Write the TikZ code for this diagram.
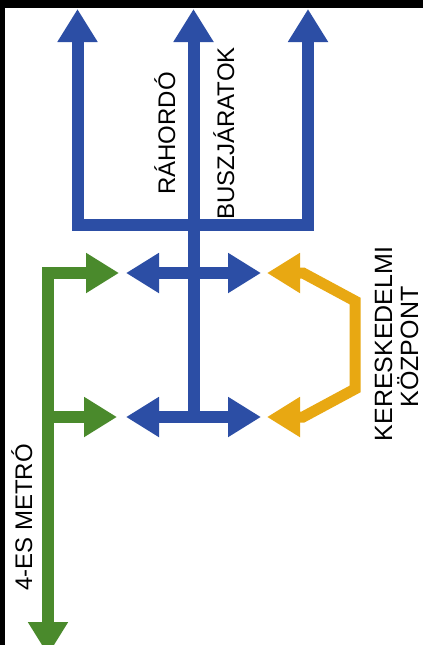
\documentclass[tikz,border=0pt]{standalone}
\usepackage{fontspec}
\setmainfont{Liberation Sans}
\usetikzlibrary{arrows.meta}
\definecolor{mblue}{RGB}{44,78,165}
\definecolor{mgreen}{RGB}{74,138,44}
\definecolor{myellow}{RGB}{232,168,18}
\tikzset{bigtip/.tip={Triangle[width=38pt,length=33pt]}}
\begin{document}
\begin{tikzpicture}[x=1pt,y=-1pt,
  flow/.style={line width=12pt, line join=miter},
  lbl/.style={rotate=90, inner sep=0pt, font=\fontsize{24}{29}\selectfont},
  lblb/.style={rotate=90, inner sep=0pt, font=\fontsize{25}{30}\selectfont}]
\useasboundingbox (0,0) rectangle (423,645);
\fill[white] (0,0) rectangle (423,645);
\fill[black] (0,0) rectangle (423,8);
\fill[black] (0,0) rectangle (5,645);
% coordinates
\coordinate (bl) at (77.5,9);
\coordinate (blc) at (77.5,225);
\coordinate (brc) at (308,225);
\coordinate (br) at (308,9);
\coordinate (bcb) at (193.5,417);
\coordinate (bct) at (193.5,9);
\coordinate (u1) at (126,273);
\coordinate (u2) at (261,273);
\coordinate (l1) at (126,417);
\coordinate (l2) at (261,417);
\coordinate (gu) at (119,273);
\coordinate (gc) at (48,273);
\coordinate (gb) at (48,655);
\coordinate (gl0) at (48,417);
\coordinate (gl) at (117,417);
\coordinate (y1) at (267,273);
\coordinate (y2) at (303,273);
\coordinate (y3) at (355,301);
\coordinate (y4) at (355,389);
\coordinate (y5) at (303,417);
\coordinate (y6) at (267,417);
% blue
\draw[flow, mblue, bigtip-bigtip] (bl) -- (blc) -- (brc) -- (br);
\draw[flow, mblue, -bigtip] (bcb) -- (bct);
\draw[flow, mblue, bigtip-bigtip] (u1) -- (u2);
\draw[flow, mblue, bigtip-bigtip] (l1) -- (l2);
% green
\draw[flow, mgreen, bigtip-bigtip] (gu) -- (gc) -- (gb);
\draw[flow, mgreen, -bigtip] (gl0) -- (gl);
% yellow
\draw[flow, line width=11pt, myellow, bigtip-bigtip] (y1) -- (y2) -- (y3) -- (y4) -- (y5) -- (y6);
% labels
\node[lbl, anchor=base west] (rah) at (175,195) {RÁHORDÓ};
\node[lbl, anchor=base west] (busz) at (234,220) {BUSZJÁRATOK};
\node[lbl, anchor=base west] (metro) at (32,591) {4-ES METRÓ};
\node[lblb, anchor=base] (ker) at (392,344) {KERESKEDELMI};
\node[lblb, anchor=base] (koz) at (418,347) {KÖZPONT};
\end{tikzpicture}
\end{document}
